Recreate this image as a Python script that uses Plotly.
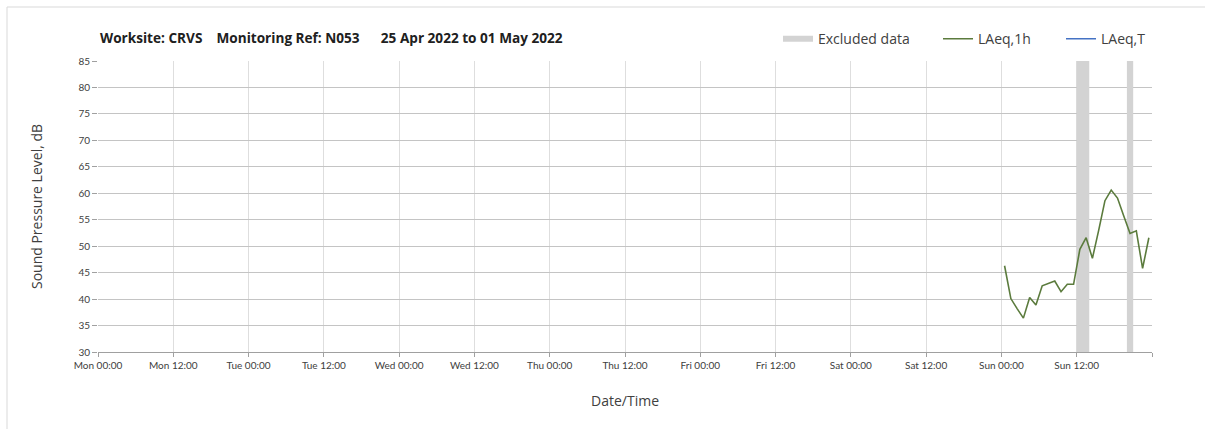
import plotly.graph_objects as go
import pandas as pd

# ---- data ----
laeq_1h_times = pd.date_range("2022-05-01 00:30", periods=24, freq="h")
laeq_1h_values = [46.3, 40.1, 38.2, 36.4, 40.3, 38.9, 42.5, 42.9, 43.4, 41.4, 42.8, 42.8,
                  49.4, 51.6, 47.7, 53.0, 58.6, 60.6, 59.1, 55.7, 52.4, 52.9, 45.8, 51.6]
excluded_start = ["2022-05-01 12:00", "2022-05-01 20:00"]
excluded_end = ["2022-05-01 14:00", "2022-05-01 21:00"]
y_min, y_max = 30, 85
x_start, x_end = "2022-04-25 00:00", "2022-05-02 00:00"
title_text = "Worksite: CRVS    Monitoring Ref: N053      25 Apr 2022 to 01 May 2022"

TICK_FONT = "Lato"
FONT = "Open Sans"
TXT = "#404040"

# excluded bands as filled polygons (None separated)
band_x, band_y = [], []
for s, e in zip(excluded_start, excluded_end):
    band_x += [s, e, e, s, s, None]
    band_y += [y_min, y_min, y_max, y_max, y_min, None]

# tick positions every 12 h, last (range end) unlabeled
tick_vals = pd.date_range(x_start, x_end, freq="12h")
tick_text = [t.strftime("%a %H:%M") for t in tick_vals[:-1]] + [""]

L0, PW = 98, 1054
def px(x):
    return (x - L0) / PW

fig = go.Figure()
fig.add_trace(go.Scatter(
    x=band_x, y=band_y, mode="none", fill="toself", fillcolor="#d3d3d3",
    name="Excluded data", legend="legend", hoverinfo="skip",
))
fig.add_trace(go.Scatter(
    x=laeq_1h_times, y=laeq_1h_values, mode="lines",
    line=dict(color="#5b7b3d", width=1.6), name="LAeq,1h", legend="legend2",
))
fig.add_trace(go.Scatter(
    x=[None], y=[None], mode="lines",
    line=dict(color="#4472c4", width=1.6), name="LAeq,T", legend="legend3",
))

leg_common = dict(orientation="h", xanchor="left", y=1.075, yanchor="middle",
                  font=dict(size=14, color=TXT, family=FONT), bgcolor="rgba(0,0,0,0)",
                  borderwidth=0, itemwidth=30)

fig.update_layout(
    width=1205, height=429,
    margin=dict(l=98, r=53, t=61, b=77, autoexpand=False),
    paper_bgcolor="white", plot_bgcolor="white",
    font=dict(family=TICK_FONT, color=TXT, size=10),
    showlegend=True,
    legend=dict(leg_common, x=px(778)),
    legend2=dict(leg_common, x=px(938)),
    legend3=dict(leg_common, x=px(1061)),
    annotations=[dict(text="<b>" + title_text.replace("  ", "&nbsp; ") + "</b>",
                      xref="paper", yref="paper", x=0.0, y=1 + (61 - 37) / 291,
                      xanchor="left", yanchor="middle", showarrow=False,
                      font=dict(size=13.6, color="#202020", family=FONT))],
    shapes=[dict(type="rect", xref="paper", yref="paper",
                 x0=px(7), x1=1.3, y0=-0.6, y1=1 + (61 - 7) / 291,
                 line=dict(color="#d9d9d9", width=1), layer="below")],
)
fig.update_xaxes(
    type="date", range=[x_start, x_end], tickvals=tick_vals, ticktext=tick_text,
    ticks="outside", ticklen=4, tickcolor="#a0a0a0",
    showgrid=True, gridcolor="#dedede", gridwidth=1,
    showline=True, linecolor="#a0a0a0", linewidth=1,
    tickfont=dict(size=10, color=TXT, family=TICK_FONT),
    title=dict(text="Date/Time", font=dict(size=14, color=TXT, family=FONT), standoff=26),
    zeroline=False, automargin=False,
)
fig.update_yaxes(
    range=[y_min, y_max], dtick=5, tick0=30,
    ticks="outside", ticklen=5, tickcolor="#a0a0a0",
    showgrid=True, gridcolor="#c4c4c4", gridwidth=1,
    showline=False, zeroline=False, automargin=False,
    tickfont=dict(size=10, color=TXT, family=TICK_FONT),
    title=dict(text="Sound Pressure Level, dB", font=dict(size=14, color=TXT, family=FONT), standoff=32),
)

fig.write_html("out.html", config={"displayModeBar": False},
               post_script="document.body.style.margin='0';")
